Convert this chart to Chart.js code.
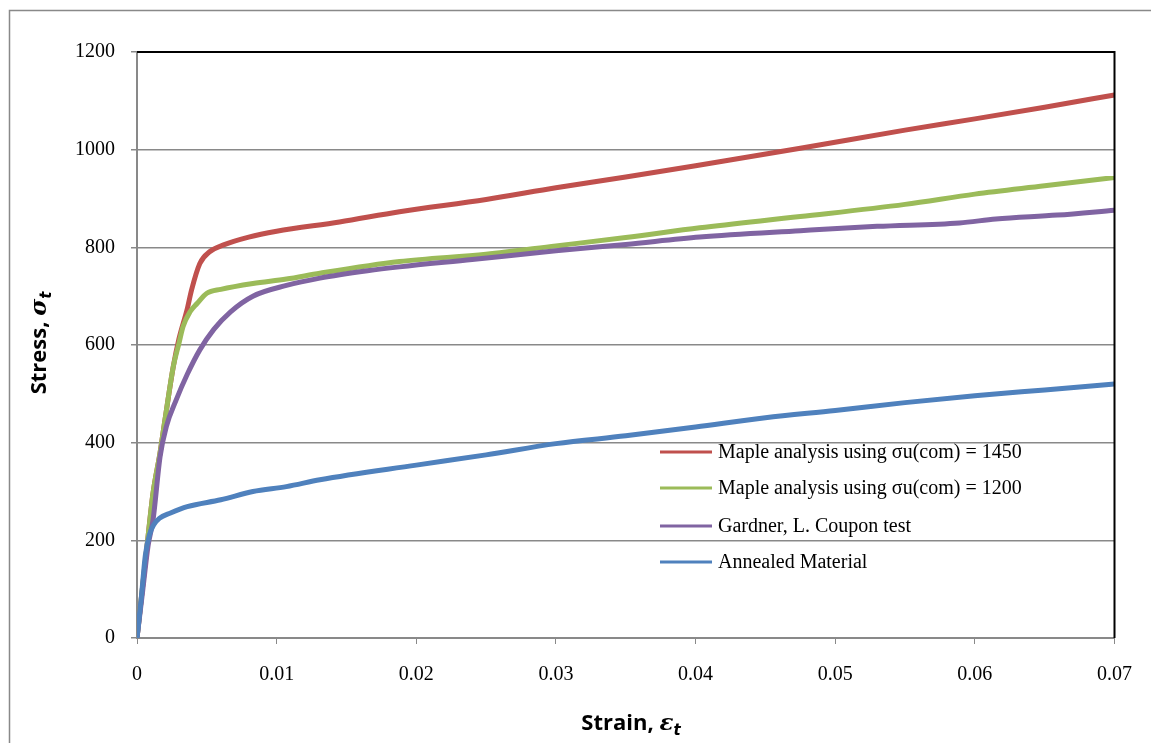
<!DOCTYPE html>
<html>
<head>
<meta charset="utf-8">
<script src="https://cdn.jsdelivr.net/npm/chart.js@4/dist/chart.umd.min.js"></script>
<style>
  body { margin: 0; background: #fff; }
  #wrap { width: 1151px; height: 743px; }
</style>
</head>
<body>
<div id="wrap"><canvas id="stressChart" width="1151" height="743"></canvas></div>
<script>
// Series names (legend order)
const seriesNames = [
    'Maple analysis using \u03C3u(com) = 1450',
    'Maple analysis using \u03C3u(com) = 1200',
    'Gardner, L. Coupon test',
    'Annealed Material'
];
const seriesColors = ['#C0504D', '#9BBB59', '#8064A2', '#4F81BD'];

// Maple 1450
const redStrain = [0, 0.0004, 0.0008, 0.00115, 0.00165, 0.002, 0.0026, 0.003, 0.0036, 0.0039, 0.0045, 0.0052, 0.0062, 0.008, 0.01, 0.0145, 0.0188, 0.025, 0.03, 0.035, 0.04, 0.0475, 0.055, 0.06, 0.065, 0.07];
const redStress = [0, 105, 210, 297, 379, 446, 556, 612, 674, 712, 767, 791, 805, 821, 833, 852, 873, 898, 922, 944, 967, 1003, 1040, 1063, 1087, 1112];

// Maple 1200
const greenStrain = [0, 0.0004, 0.0008, 0.00115, 0.00165, 0.002, 0.0026, 0.003, 0.0033, 0.0038, 0.0043, 0.005, 0.006, 0.0083, 0.0107, 0.0131, 0.0188, 0.025, 0.03, 0.035, 0.0403, 0.0475, 0.055, 0.06, 0.065, 0.07];
const greenStress = [0, 105, 210, 297, 379, 446, 556, 603, 638, 668, 685, 706, 714, 726, 735, 747, 771, 786, 803, 820, 840, 863, 888, 909, 926, 943];

// Gardner coupon test
const purpleStrain = [0, 0.0004, 0.0008, 0.00115, 0.00165, 0.0021, 0.0028, 0.0036, 0.0045, 0.0055, 0.0067, 0.0083, 0.0107, 0.0131, 0.0165, 0.0188, 0.024, 0.03, 0.035, 0.0403, 0.0475, 0.053, 0.0589, 0.0615, 0.0659, 0.07];
const purpleStress = [0, 95, 190, 242, 371, 433, 487, 540, 590, 632, 668, 700, 722, 737, 752, 760, 775, 793, 806, 821, 834, 843, 850, 858, 866, 876];

// Annealed material
const blueStrain = [0, 0.0003, 0.0006, 0.0009, 0.0012, 0.0016, 0.0024, 0.0036, 0.006, 0.0083, 0.0107, 0.0131, 0.02, 0.025, 0.03, 0.035, 0.04, 0.045, 0.05, 0.055, 0.06, 0.065, 0.07];
const blueStress = [0, 80, 170, 212, 232, 245, 256, 269, 283, 300, 310, 324, 354, 375, 398, 414, 432, 451, 466, 482, 496, 508, 520];

// Axis ticks
const xTicks = [0, 0.01, 0.02, 0.03, 0.04, 0.05, 0.06, 0.07];
const yTicks = [0, 200, 400, 600, 800, 1000, 1200];

function toPoints(xs, ys) {
    return xs.map((x, i) => ({ x: x, y: ys[i] }));
}

const allStrain = [redStrain, greenStrain, purpleStrain, blueStrain];
const allStress = [redStress, greenStress, purpleStress, blueStress];

const datasets = seriesNames.map((name, i) => ({
    label: name,
    data: toPoints(allStrain[i], allStress[i]),
    borderColor: seriesColors[i],
    backgroundColor: seriesColors[i],
    borderWidth: 5,
    pointRadius: 0,
    cubicInterpolationMode: 'monotone',
    order: 3 - i   // blue drawn on top
}));

const GRID = '#898989';

// Border, frame, legend and axis titles
const decorations = {
    id: 'decorations',
    beforeDraw(chart) {
        const ctx = chart.ctx;
        ctx.save();
        ctx.strokeStyle = GRID;
        ctx.lineWidth = 1.5;
        ctx.strokeRect(9.5, 10.5, 1300, 900);
        ctx.restore();
    },
    afterDraw(chart) {
        const ctx = chart.ctx;
        const a = chart.chartArea;
        ctx.save();
        // black top and right frame
        ctx.strokeStyle = '#000';
        ctx.lineWidth = 2;
        ctx.beginPath();
        ctx.moveTo(a.left, a.top);
        ctx.lineTo(a.right, a.top);
        ctx.lineTo(a.right, a.bottom);
        ctx.stroke();

        // legend
        ctx.font = '20px "Liberation Serif", "Times New Roman", serif';
        ctx.textBaseline = 'middle';
        ctx.textAlign = 'left';
        const rows = [452, 488, 526, 562];
        seriesNames.forEach((name, i) => {
            ctx.strokeStyle = seriesColors[i];
            ctx.lineWidth = 3;
            ctx.beginPath();
            ctx.moveTo(660, rows[i]);
            ctx.lineTo(712, rows[i]);
            ctx.stroke();
            ctx.fillStyle = '#000';
            ctx.fillText(name, 718, rows[i] + 1);
        });

        // axis titles with italic subscript symbols
        function title(parts) {
            let w = 0;
            parts.forEach(p => { ctx.font = p.font; w += ctx.measureText(p.text).width; });
            return w;
        }
        function drawParts(parts, x, y) {
            parts.forEach(p => {
                ctx.font = p.font;
                ctx.fillText(p.text, x, y + (p.dy || 0));
                x += ctx.measureText(p.text).width;
            });
        }
        ctx.fillStyle = '#000';
        ctx.textBaseline = 'alphabetic';
        const base = 'bold 22px "Open Sans", Lato, sans-serif';
        const ital = 'italic bold 23px "DejaVu Serif", serif';
        const sub = 'italic bold 15px "DejaVu Sans", sans-serif';

        const xParts = [
            { text: 'Strain, ', font: base },
            { text: '\u03B5', font: ital },
            { text: 't', font: sub, dy: 5 }
        ];
        const xw = title(xParts);
        drawParts(xParts, 631 - xw / 2, 730);

        const yParts = [
            { text: 'Stress, ', font: base },
            { text: '\u03C3', font: ital },
            { text: 't', font: sub, dy: 5 }
        ];
        const yw = title(yParts);
        ctx.translate(46, 343);
        ctx.rotate(-Math.PI / 2);
        drawParts(yParts, -yw / 2, 0);
        ctx.restore();
    }
};

const tickFont = { family: '"Liberation Serif", "Times New Roman", serif', size: 20 };

new Chart(document.getElementById('stressChart'), {
    type: 'line',
    data: { datasets: datasets },
    options: {
        responsive: false,
        animation: false,
        layout: { padding: { left: 0, top: 52, right: 35, bottom: 0 } },
        plugins: {
            legend: { display: false },
            tooltip: { enabled: false }
        },
        scales: {
            x: {
                type: 'linear',
                min: 0,
                max: 0.07,
                afterFit(scale) { scale.height = 105; },
                afterBuildTicks(scale) { scale.ticks = xTicks.map(v => ({ value: v })); },
                ticks: {
                    color: '#000',
                    font: tickFont,
                    padding: 19,
                    maxRotation: 0,
                    callback: v => v === 0 ? '0' : v.toFixed(2)
                },
                grid: {
                    drawOnChartArea: false,
                    drawTicks: true,
                    tickLength: 6,
                    tickColor: GRID,
                    color: GRID
                },
                border: { color: GRID, width: 2 }
            },
            y: {
                type: 'linear',
                min: 0,
                max: 1200,
                afterFit(scale) { scale.width = 137; },
                afterBuildTicks(scale) { scale.ticks = yTicks.map(v => ({ value: v })); },
                ticks: {
                    color: '#000',
                    font: tickFont,
                    padding: 16,
                    callback: v => String(v)
                },
                grid: {
                    color: GRID,
                    lineWidth: 1.5,
                    drawTicks: true,
                    tickLength: 6,
                    tickColor: GRID
                },
                border: { color: GRID, width: 2 }
            }
        }
    },
    plugins: [decorations]
});
</script>
</body>
</html>
